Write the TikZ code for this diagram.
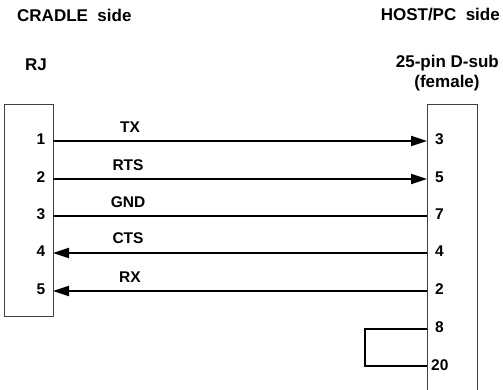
\documentclass[tikz,border=0pt]{standalone}
\usepackage{fontspec}
\setmainfont{Liberation Sans}
\usetikzlibrary{arrows.meta}
\begin{document}
\begin{tikzpicture}[x=1pt,y=-1pt,
  hdr/.style={font=\fontsize{17}{19}\selectfont\bfseries, inner sep=0pt},
  lbl/.style={font=\fontsize{15.5}{17}\selectfont\bfseries, inner sep=0pt},
  conn/.style={draw=black!75, line width=0.9pt},
  wire/.style={line width=2pt},
  tip/.style={-{Triangle[length=16pt,width=10pt]}},
  loopw/.style={line width=1.4pt}]
\useasboundingbox (0,0) rectangle (503,390);
% headers
\node[hdr, anchor=west] (cradle) at (17,15) {CRADLE\ \ side};
\node[hdr, anchor=east] (host) at (500,15) {HOST/PC\ \ side};
\node[hdr] (rj) at (36,65) {RJ};
\node[hdr, anchor=east] (dsub) at (499,63) {25-pin D-sub};
\node[hdr] (fem) at (447,83) {(female)};
% connectors (boxes)
\draw[conn] (4,104) rectangle (53,316);
\draw[conn] (427,392) -- (427,104) -- (477,104) -- (477,392);
% pin coordinates
\foreach \i/\y in {1/141,2/179,3/216,4/253,5/291} {
  \coordinate (L\i) at (53,\y);
  \node[lbl] (ln\i) at (41,\y-2) {\i};
}
\foreach \n/\y in {3/141,5/179,7/216,4/253,2/291,8/329} {
  \coordinate (R\n) at (427,\y);
  \node[lbl, anchor=west] (rn\n) at (435,\y-2) {\n};
}
\coordinate (R20) at (427,366);
\node[lbl, anchor=west] (rn20) at (431,365) {20};
% signal labels
\node[lbl] (tx) at (130,127) {TX};
\node[lbl] (rts) at (128,165) {RTS};
\node[lbl] (gnd) at (128,202) {GND};
\node[lbl] (cts) at (128,238) {CTS};
\node[lbl] (rx) at (130,277) {RX};
% wires
\draw[wire, tip] (L1) -- (R3);
\draw[wire, tip] (L2) -- (R5);
\draw[wire] (L3) -- (R7);
\draw[wire, tip] (R4) -- (L4);
\draw[wire, tip] (R2) -- (L5);
\draw[loopw] (R8) -| (365,366) -- (R20);
\end{tikzpicture}
\end{document}
